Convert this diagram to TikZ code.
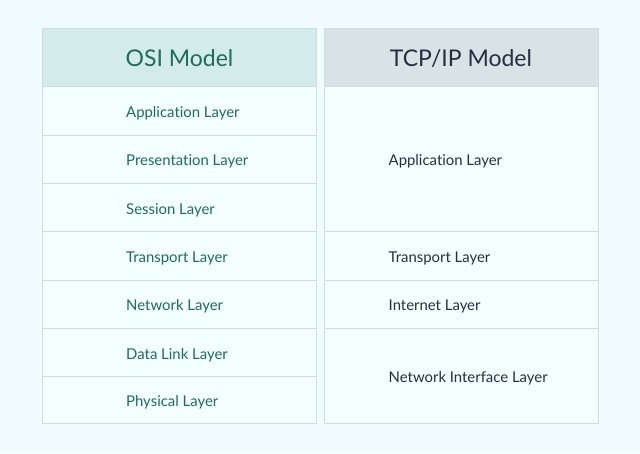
\documentclass[tikz,border=0pt]{standalone}
\usepackage{fontspec}
\setmainfont[Ligatures=NoCommon]{Lato}
\definecolor{bgc}{RGB}{240,252,253}
\definecolor{cellc}{RGB}{243,254,255}
\definecolor{hdrL}{RGB}{212,236,233}
\definecolor{hdrR}{RGB}{217,227,230}
\definecolor{linec}{RGB}{204,222,224}
\definecolor{txtL}{RGB}{30,108,92}
\definecolor{txtR}{RGB}{38,46,66}
\tikzset{
  cellbox/.style={draw=linec, line width=1pt, fill=cellc, minimum width=274pt, inner sep=0pt},
  hdrbox/.style={cellbox, minimum height=58.5pt},
  ositxt/.style={anchor=base west, inner sep=0pt, text=txtL, font=\fontsize{14.9}{16}\selectfont},
  tcptxt/.style={anchor=base west, inner sep=0pt, text=txtR, font=\fontsize{14.9}{16}\selectfont},
  hdrtxt/.style={anchor=base, inner sep=0pt, font=\fontsize{23}{26}\selectfont}
}
\begin{document}
\begin{tikzpicture}[x=1pt,y=-1pt]
\fill[bgc] (0,0) rectangle (640,453);
\useasboundingbox (0,0) rectangle (640,453);
% left table
\node[hdrbox, fill=hdrL] (oh) at (179.5,57.6) {};
\node[cellbox, minimum height=48.3pt] (o1) at (179.5,111.0) {};
\node[cellbox, minimum height=48.3pt] (o2) at (179.5,159.3) {};
\node[cellbox, minimum height=48.3pt] (o3) at (179.5,207.6) {};
\node[cellbox, minimum height=48.3pt] (o4) at (179.5,255.9) {};
\node[cellbox, minimum height=48.3pt] (o5) at (179.5,304.2) {};
\node[cellbox, minimum height=48.3pt] (o6) at (179.5,352.5) {};
\node[cellbox, minimum height=46.7pt] (o7) at (179.5,400.0) {};
% right table
\node[hdrbox, fill=hdrR] (th) at (461,57.6) {};
\node[cellbox, minimum height=144.9pt] (t1) at (461,159.3) {};
\node[cellbox, minimum height=48.3pt] (t2) at (461,255.9) {};
\node[cellbox, minimum height=48.3pt] (t3) at (461,304.2) {};
\node[cellbox, minimum height=95pt] (t4) at (461,375.85) {};
% headers
\node[hdrtxt, text=txtL] (ohl) at (179.5,66) {OSI Model};
\node[hdrtxt, text=txtR] (thl) at (461,66) {TCP/IP Model};
% OSI labels
\node[ositxt] (l1) at (126,117.5) {Application Layer};
\node[ositxt] (l2) at (126,165.8) {Presentation Layer};
\node[ositxt] (l3) at (126,214.1) {Session Layer};
\node[ositxt] (l4) at (126,262.4) {Transport Layer};
\node[ositxt] (l5) at (126,310.7) {Network Layer};
\node[ositxt] (l6) at (126,359.0) {Data Link Layer};
\node[ositxt] (l7) at (126,406.7) {Physical Layer};
% TCP/IP labels
\node[tcptxt] (r1) at (388.5,165.8) {Application Layer};
\node[tcptxt] (r2) at (388.5,262.4) {Transport Layer};
\node[tcptxt] (r3) at (388.5,310.7) {Internet Layer};
\node[tcptxt] (r4) at (388.5,382.4) {Network Interface Layer};
\end{tikzpicture}
\end{document}
